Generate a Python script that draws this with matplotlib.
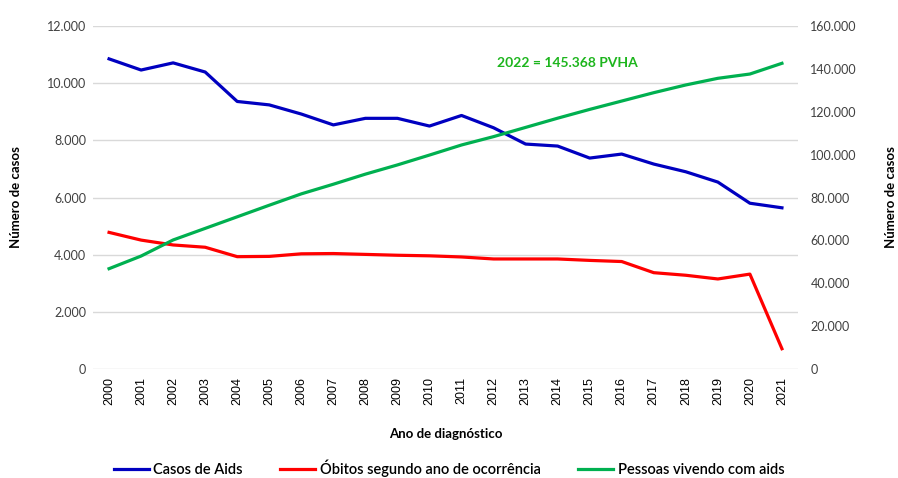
import matplotlib
matplotlib.use("Agg")
import matplotlib.pyplot as plt

anos = [str(a) for a in range(2000, 2022)]

casos_aids = [10850, 10460, 10710, 10390, 9360, 9240, 8920, 8540, 8770, 8770, 8500,
              8870, 8440, 7870, 7800, 7380, 7520, 7170, 6900, 6540, 5800, 5640]

obitos = [4780, 4510, 4340, 4260, 3930, 3940, 4030, 4040, 4010, 3980, 3960,
          3920, 3850, 3850, 3850, 3800, 3760, 3370, 3280, 3150, 3320, 710]

pvha = [46800, 52700, 60200, 65600, 71000, 76400, 81700, 86200, 90900, 95200, 99800,
        104500, 108400, 112700, 117000, 121100, 125000, 128900, 132500, 135600, 137600, 142600]

esq_ticks = list(range(0, 12001, 2000))
dir_ticks = list(range(0, 160001, 20000))


def fmt(v):
    return f"{v:,}".replace(",", ".")


plt.rcParams["font.family"] = ["Lato", "DejaVu Sans"]

fig = plt.figure(figsize=(8.98, 4.78), dpi=100)
ax = fig.add_axes([0.1036, 0.228, 0.785, 0.7176])
ax2 = ax.twinx()

x = list(range(len(anos)))
l1, = ax.plot(x, casos_aids, color="#0000c0", lw=2.3, label="Casos de Aids")
l2, = ax.plot(x, obitos, color="#ff0000", lw=2.3, label="Óbitos segundo ano de ocorrência")
l3, = ax2.plot(x, pvha, color="#00b050", lw=2.3, label="Pessoas vivendo com aids")

ax.set_xlim(-0.5, len(anos) - 0.5)
ax.set_ylim(0, 12000)
ax2.set_ylim(0, 160000)

ax.set_yticks(esq_ticks)
ax.set_yticklabels([fmt(v) for v in esq_ticks], fontsize=9, color="#404040")
ax2.set_yticks(dir_ticks)
ax2.set_yticklabels([fmt(v) for v in dir_ticks], fontsize=9, color="#404040")

ax.set_xticks(x)
ax.set_xticklabels(anos, rotation=90, fontsize=9, family=["Liberation Sans", "DejaVu Sans"])

ax.grid(axis="y", color="#d9d9d9", lw=1)
ax.set_axisbelow(True)
for a in (ax, ax2):
    for s in a.spines.values():
        s.set_visible(False)
    a.tick_params(length=0)
ax.tick_params(axis="y", pad=5)
ax2.tick_params(axis="y", pad=9)
ax.tick_params(axis="x", pad=6)

ax.set_ylabel("Número de casos", fontsize=9.5, fontweight="bold", labelpad=18)
ax2.set_ylabel("Número de casos", fontsize=9.5, fontweight="bold", rotation=90, labelpad=20)
ax.set_xlabel("Ano de diagnóstico", fontsize=9.5, fontweight="bold", labelpad=16)

ax2.text(14.3, 142600, "2022 = 145.368 PVHA", color="#1db51d", fontsize=10,
         fontweight="bold", ha="center", va="center")

fig.legend(handles=[l1, l2, l3], loc="center", bbox_to_anchor=(0.5, 0.02),
           ncol=3, frameon=False, prop={"size": 10.5, "weight": "semibold"},
           handlelength=2.4, columnspacing=2.6, handletextpad=0.3)

fig.savefig("out.png", dpi=100)
